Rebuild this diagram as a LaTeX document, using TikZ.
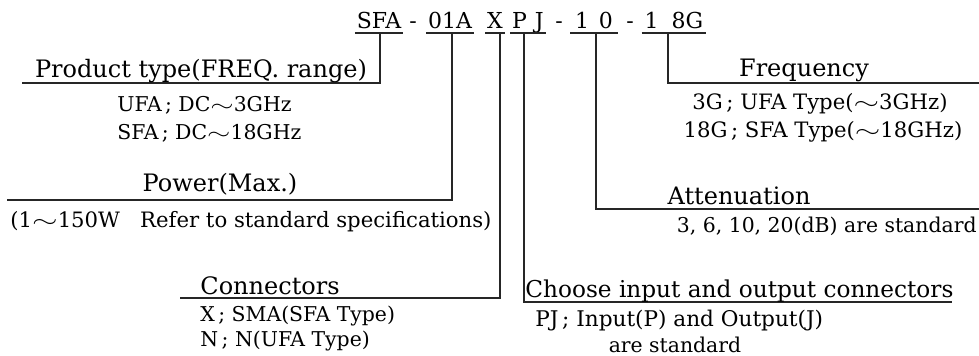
\documentclass[tikz,border=0pt]{standalone}
\usepackage{fontspec}
\setmainfont{DejaVu Serif}
\usepackage{tikz}
\usetikzlibrary{positioning}

\newcommand{\fwtilde}{\scalebox{1.5}[1]{$\sim$}}

\begin{document}
\begin{tikzpicture}[x=0.5pt, y=-0.5pt]
\tikzstyle{code_part}=[inner ysep=0pt, inner xsep=1pt, outer sep=0pt, anchor=base, font=\fontsize{11}{13}\selectfont];
\tikzstyle{label_head}=[inner sep=0pt, anchor=base, font=\fontsize{12}{14}\selectfont];
\tikzstyle{label_text}=[inner sep=0pt, anchor=base west, font=\fontsize{10.2}{12}\selectfont];
\tikzstyle{lead}=[draw=black!85, line width=0.75pt];

\useasboundingbox (0,0) rectangle (979,356);

% model code
\node [code_part] at (379,29) (SFA) {SFA};
\node [code_part] at (413,29) (dash1) {-};
\node [code_part] at (450,29) (01A) {01A};
\node [code_part] at (495,29) (X) {X};
\node [code_part] at (528,29) (PJ) {P\hspace{4pt}J};
\node [code_part] at (559,29) (dash2) {-};
\node [code_part, inner xsep=2.5pt] at (594,29) (10) {1\hspace{5pt}0};
\node [code_part] at (630,29) (dash3) {-};
\node [code_part, inner xsep=1.5pt] at (674,29) (18G) {1\hspace{6.5pt}8G};

\foreach \n in {SFA, 01A, X, PJ, 10, 18G}
  \draw[lead] ([yshift=-2pt]\n.base west) -- ([yshift=-2pt]\n.base east);

% turn points of the leads
\coordinate (SFA top) at (380,33);
\coordinate (SFA end) at (22,83);
\coordinate (01A top) at (452,33);
\coordinate (01A end) at (7,200);
\coordinate (X top) at (500,33);
\coordinate (X end) at (180,298);
\coordinate (PJ top) at (524,33);
\coordinate (PJ end) at (952,302);
\coordinate (10 top) at (596,33);
\coordinate (10 end) at (979,209);
\coordinate (18G top) at (668,33);
\coordinate (18G end) at (979,83);

\draw[lead] (SFA top) |- (SFA end);
\draw[lead] (01A top) |- (01A end);
\draw[lead] (X top) |- (X end);
\draw[lead] (PJ top) |- (PJ end);
\draw[lead] (10 top) |- (10 end);
\draw[lead] (18G top) |- (18G end);

% labels
\node [label_head] at (201,78) (Product) {Product type(FREQ. range)};
\node [label_text] at (117,112) (UFA) {UFA\,; DC\fwtilde 3GHz};
\node [label_text] at (117,140) (SFA range) {SFA\,; DC\fwtilde 18GHz};

\node [label_head] at (220,192) (Power) {Power(Max.)};
\node [label_text, anchor=base, font=\fontsize{10.6}{12}\selectfont] at (251,228) (Power range) {(1\fwtilde 150W\ \ \ Refer to standard specifications)};

\node [label_head, anchor=base west] at (200,295) (Connectors) {Connectors};
\node [label_text] at (200,322) (SMA) {X\,; SMA(SFA Type)};
\node [label_text] at (200,347) (N type) {N\,; N(UFA Type)};

\node [label_head] at (804,77) (Frequency) {Frequency};
\node [label_text, anchor=base, font=\fontsize{10.6}{12}\selectfont] at (820,110) (3G) {3G\,; UFA Type(\fwtilde 3GHz)};
\node [label_text, anchor=base, font=\fontsize{10.6}{12}\selectfont] at (823,138) (18G text) {18G\,; SFA Type(\fwtilde 18GHz)};

\node [label_head] at (739,205) (Attenuation) {Attenuation};
\node [label_text, anchor=base east] at (977,233) (Att values) {3, 6, 10, 20(dB) are standard};

\node [label_head, anchor=base west, font=\fontsize{11.6}{14}\selectfont] at (525,298) (Choose) {Choose input and output connectors};
\node [label_text, font=\fontsize{10.8}{12}\selectfont] at (535,327) (PJ text) {PJ\,; Input(P) and Output(J)};
\node [label_text, anchor=base] at (675,353) (are std) {are standard};

\end{tikzpicture}
\end{document}
